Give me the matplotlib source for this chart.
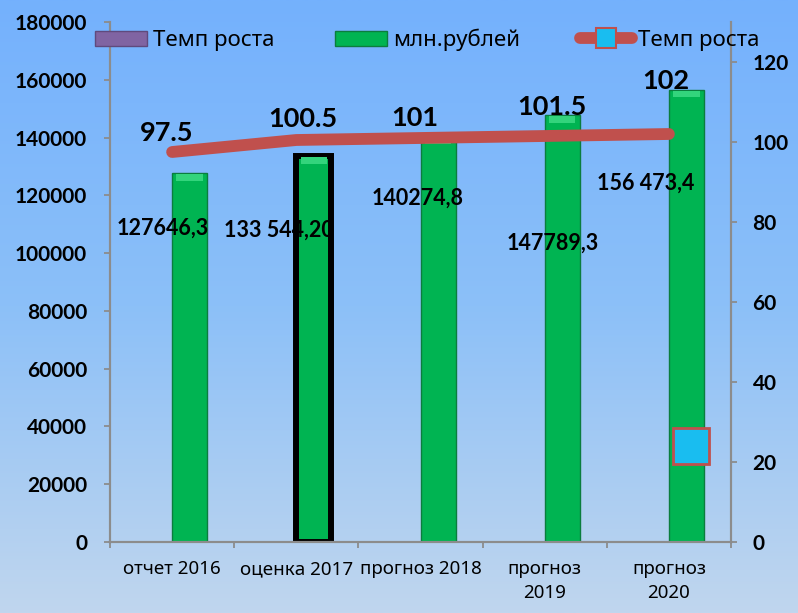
import numpy as np
import matplotlib
matplotlib.use('Agg')
import matplotlib.pyplot as plt
import matplotlib.patches as mpatches
import matplotlib.lines as mlines
from matplotlib.colors import LinearSegmentedColormap

plt.rcParams['font.family'] = ['Noto Sans', 'DejaVu Sans']
BOLD = ['Lato', 'Liberation Sans', 'DejaVu Sans']

# data
categories = ['отчет 2016', 'оценка 2017', 'прогноз 2018', 'прогноз\n2019', 'прогноз\n2020']
rub_mln = [127646.3, 133544.2, 140274.8, 147789.3, 156473.4]
rub_labels = ['127646,3', '133 544,20', '140274,8', '147789,3', '156 473,4']
growth = [97.5, 100.5, 101, 101.5, 102]
# stray marker of the line series near the last column
stray_x = [4.18]
stray_y = [24]

left_ticks = np.arange(0, 180001, 20000)
right_ticks = np.arange(0, 121, 20)

# label placement (pixel offsets from the bar top / line point)
bar_lab_off = [(-27, -55), (-35, -74), (-20, -61), (-9, -128), (-41, -93)]
line_lab_off = [(-5, 19), (7, 21), (-6, 20), (7, 29), (-3, 53)]

W, H = 798, 613
fig = plt.figure(figsize=(W / 100, H / 100), dpi=100)

# blue gradient background
bg = fig.add_axes([0, 0, 1, 1], zorder=-10)
cmap = LinearSegmentedColormap.from_list('bg', [(0, '#c0d6ee'), (0.5, '#8cc0f8'), (1, '#74b1fd')])
grad = np.linspace(0, 1, 256).reshape(-1, 1)
bg.imshow(grad, aspect='auto', cmap=cmap, origin='lower', extent=[0, 1, 0, 1])
bg.axis('off')

ax = fig.add_axes([110 / W, 1 - 542 / H, 621 / W, 520 / H])
ax.set_facecolor('none')
ax2 = ax.twinx()

x = np.arange(len(categories))
bw = 0.282

# purple "Темп роста" bars on the main axis (practically invisible)
ax.bar(x - bw / 2, growth, bw, color='#8064a2', linewidth=0)

# green bars
edges = ['#0b7d3e', 'black', '#0b7d3e', '#0b7d3e', '#0b7d3e']
lws = [1, 4.3, 1, 1, 1]
ax.bar(x + bw / 2, rub_mln, bw, color='#00b452', edgecolor=edges, linewidth=lws, zorder=2)
# lighter bevel on top of each bar
bevel = 2300
ax.bar(x + bw / 2, [bevel] * len(x), bw * 0.75, bottom=np.array(rub_mln) - bevel - 300,
       color='#33d47c', linewidth=0, zorder=3)

for i, (v, lab) in enumerate(zip(rub_mln, rub_labels)):
    dx, dy = bar_lab_off[i]
    ax.annotate(lab, xy=(x[i] + bw / 2, v), xytext=(dx, dy), textcoords='offset pixels',
                ha='center', va='center', fontsize=15.5, fontweight='bold', family=BOLD,
                color='black', zorder=5)

# growth line on the secondary axis
ax2.plot(x, growth, color='#c0504d', lw=8.5, solid_capstyle='round', zorder=3)
ax2.plot(stray_x, stray_y, 's', ms=26, mfc='#19bdf0', mec='#c0504d', mew=2, zorder=4)
for i, r in enumerate(growth):
    dx, dy = line_lab_off[i]
    ax2.annotate(f'{r:g}', xy=(x[i], r), xytext=(dx, dy), textcoords='offset pixels',
                 ha='center', va='center', fontsize=19.5, fontweight='bold', family=BOLD,
                 color='black')

ax.set_xlim(-0.5, len(categories) - 0.5)
ax.set_ylim(0, 180000)
ax2.set_ylim(0, 130)

ax.set_yticks(left_ticks)
ax.set_yticklabels([str(t) for t in left_ticks], fontsize=15, fontweight='bold', family=BOLD)
ax2.set_yticks(right_ticks)
ax2.set_yticklabels([str(t) for t in right_ticks], fontsize=15, fontweight='bold', family=BOLD)

ax.set_xticks(np.arange(-0.5, len(categories), 1))
ax.set_xticklabels([])
ax.set_xticks(x, minor=True)
ax.set_xticklabels(categories, minor=True, fontsize=13.5, linespacing=1.4)

grey = '#8c8c8c'
ax.tick_params(axis='x', which='major', direction='out', length=4.5, width=1.3, color=grey)
ax.tick_params(axis='x', which='minor', length=0, pad=13)
ax.tick_params(axis='y', direction='out', length=4.5, width=1.3, color=grey, pad=12)
ax2.tick_params(axis='y', direction='out', length=4.5, width=1.3, color=grey, pad=11)

for a in (ax, ax2):
    a.spines['top'].set_visible(False)
    for s in ('left', 'right', 'bottom'):
        a.spines[s].set_color(grey)
        a.spines[s].set_linewidth(1.5)

# legend across the top
h1 = mpatches.Patch(facecolor='#8064a2', edgecolor='#5f4a7d', label='Темп роста')
h2 = mpatches.Patch(facecolor='#00b452', edgecolor='#0b7d3e', label='млн.рублей')
h3 = mlines.Line2D([], [], color='#c0504d', lw=8.5, solid_capstyle='round', marker='s',
                   ms=14, mfc='#19bdf0', mec='#c0504d', mew=1.5, label='Темп роста')
fig.legend(handles=[h1, h2, h3], loc='center left', bbox_to_anchor=(84 / W, 1 - 40 / H),
           ncol=3, frameon=False, fontsize=16, borderpad=0, handlelength=2.35,
           handleheight=0.72, handletextpad=0.27, columnspacing=2.7)

fig.savefig('out.png', dpi=100)
